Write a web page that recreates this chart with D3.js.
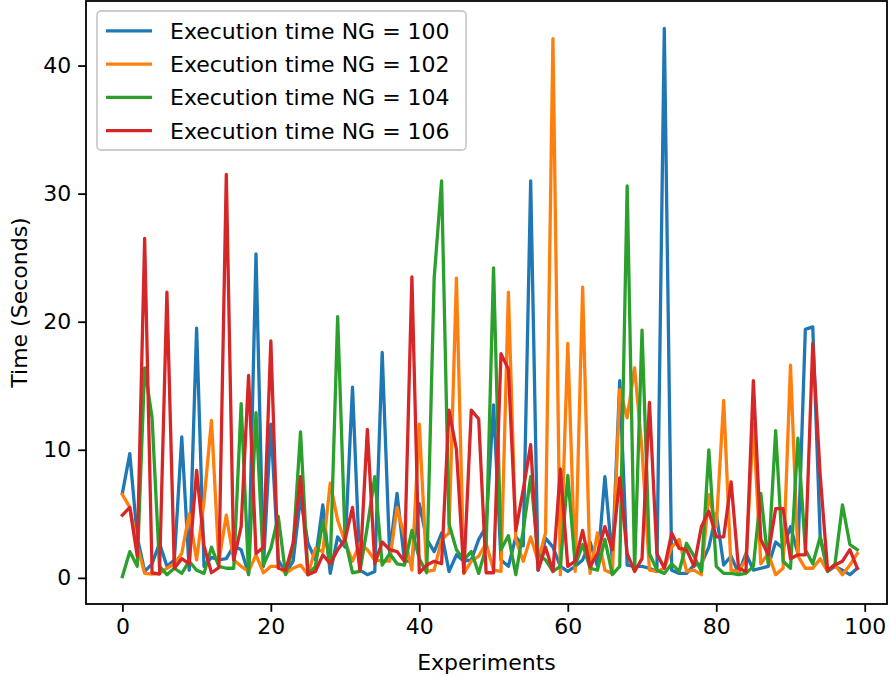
<!DOCTYPE html>
<html>
<head>
<meta charset="utf-8">
<script src="https://cdn.jsdelivr.net/npm/d3@7"></script>
<style>
  body { margin: 0; background: #fff; }
  text { font-family: "DejaVu Sans", sans-serif; }
</style>
</head>
<body>
<div id="chart"></div>
<script>
let width = 890;
let height = 677;
let margin = ({top: 1, right: 3, bottom: 73, left: 86});
let fontSize = 22;

let ng100 = [6.6, 9.7, 3.2, 0.5, 1.1, 2.7, 0.9, 1.4, 11.0, 0.6,
    19.5, 0.9, 1.6, 1.4, 1.5, 2.5, 2.2, 0.3, 25.3, 0.9,
    12.0, 1.4, 0.35, 1.3, 6.3, 2.7, 1.4, 5.7, 0.35, 3.2,
    2.4, 14.9, 0.6, 0.25, 0.5, 17.6, 1.9, 6.6, 1.3, 1.3,
    5.8, 3.0, 2.05, 3.5, 0.5, 1.8, 1.3, 1.4, 3.0, 4.0,
    13.5, 1.4, 0.9, 3.2, 2.5, 31.0, 0.6, 3.1, 2.4, 0.9,
    0.5, 0.9, 1.4, 2.8, 0.9, 7.9, 1.4, 15.4, 1.0, 0.9,
    0.9, 0.75, 0.5, 42.9, 0.6, 0.35, 0.35, 1.0, 1.1, 2.4,
    5.0, 1.0, 1.7, 0.35, 1.9, 0.6, 0.75, 0.9, 2.8, 2.3,
    4.0, 1.9, 19.4, 19.6, 3.2, 0.5, 0.9, 0.6, 0.25, 0.75];

let ng102 = [6.5, 5.5, 2.5, 0.35, 0.3, 0.35, 0.75, 1.1, 1.9, 5.0,
    1.4, 6.0, 12.3, 1.3, 4.9, 1.4, 0.9, 0.5, 1.8, 0.4,
    0.9, 0.9, 0.35, 0.75, 1.0, 0.25, 2.3, 2.05, 7.4, 4.5,
    2.8, 1.3, 2.7, 2.2, 1.4, 1.3, 1.3, 5.5, 3.2, 0.6,
    12.0, 0.5, 0.6, 3.0, 3.5, 23.4, 0.35, 1.3, 1.7, 2.7,
    0.6, 0.5, 22.3, 3.0, 1.3, 3.2, 1.3, 3.5, 42.1, 0.25,
    18.3, 0.5, 22.7, 0.35, 3.5, 0.6, 0.35, 14.7, 12.5, 16.4,
    10.0, 0.6, 0.5, 0.75, 2.4, 3.0, 0.5, 0.6, 0.25, 6.5,
    4.0, 13.85, 0.6, 0.5, 1.4, 12.0, 1.1, 1.9, 0.25, 0.75,
    16.6, 1.7, 0.75, 0.75, 1.5, 0.5, 1.0, 0.25, 1.0, 1.9];

let ng104 = [0.1, 2.05, 0.9, 16.4, 12.5, 0.9, 0.25, 0.75, 0.35, 1.3,
    0.6, 0.35, 2.4, 0.9, 0.75, 0.75, 13.6, 0.25, 12.9, 1.0,
    2.3, 4.8, 0.25, 2.4, 11.4, 0.25, 0.9, 4.4, 1.0, 20.4,
    3.0, 0.4, 0.5, 4.0, 7.9, 1.0, 1.9, 1.1, 1.0, 3.7,
    1.5, 0.4, 23.4, 31.0, 4.2, 2.2, 1.4, 2.05, 0.35, 2.4,
    24.2, 2.2, 3.3, 0.25, 3.7, 7.9, 1.8, 1.4, 0.5, 0.9,
    8.0, 1.0, 2.6, 0.75, 0.6, 3.0, 0.25, 0.9, 30.6, 0.6,
    19.35, 1.9, 0.6, 0.35, 1.1, 0.5, 2.7, 1.7, 0.5, 10.0,
    0.9, 0.35, 0.35, 0.25, 0.35, 0.9, 6.6, 1.1, 11.5, 1.3,
    0.75, 10.9, 2.2, 1.1, 3.2, 0.5, 1.1, 5.7, 2.6, 2.2];

let ng106 = [4.9, 5.5, 1.7, 26.5, 0.4, 0.3, 22.3, 0.75, 1.5, 1.1,
    8.4, 2.5, 0.4, 0.8, 31.5, 1.4, 4.0, 15.8, 1.9, 2.4,
    18.5, 0.75, 0.6, 2.7, 7.9, 0.25, 0.5, 1.8, 1.1, 2.2,
    3.0, 5.5, 0.6, 11.6, 1.1, 2.8, 2.2, 2.05, 1.3, 23.5,
    0.4, 1.0, 1.3, 1.1, 13.1, 10.0, 0.4, 13.1, 12.4, 0.4,
    0.4, 17.5, 16.3, 3.7, 6.9, 10.4, 0.6, 2.4, 0.5, 8.5,
    0.9, 1.3, 3.7, 0.9, 1.9, 4.0, 2.2, 7.8, 1.9, 0.5,
    1.5, 13.7, 1.9, 0.75, 3.5, 2.3, 2.2, 0.9, 4.0, 5.2,
    3.2, 3.2, 7.5, 0.75, 0.5, 15.4, 3.0, 1.8, 5.4, 5.4,
    1.5, 1.8, 1.8, 18.3, 8.0, 0.6, 1.0, 1.3, 2.2, 0.75];

let seriesNames = ["Execution time NG = 100", "Execution time NG = 102",
    "Execution time NG = 104", "Execution time NG = 106"];
let seriesValues = [ng100, ng102, ng104, ng106];
let colors = ["#1f77b4", "#ff7f0e", "#2ca02c", "#d62728"];

let xTicks = [0, 20, 40, 60, 80, 100];
let yTicks = [0, 10, 20, 30, 40];

let svg = d3.select("#chart")
    .append("svg")
    .attr("width", width)
    .attr("height", height);

// padding round the data, like matplotlib's margins
let allVals = d3.merge(seriesValues);
let yMin = d3.min(allVals), yMax = d3.max(allVals);
let yPad = (yMax - yMin) * 0.05;

let xScale = d3.scaleLinear()
    .domain([-4.9, 103.0])
    .range([margin.left, width - margin.right]);

let yScale = d3.scaleLinear()
    .domain([yMin - yPad, yMax + yPad])
    .range([height - margin.bottom, margin.top]);

let line = d3.line()
    .x(function(d, i) { return xScale(i); })
    .y(function(d) { return yScale(d); });

svg.append("g")
    .selectAll("path")
    .data(seriesValues)
    .enter()
    .append("path")
    .attr("d", line)
    .attr("fill", "none")
    .attr("stroke", function(d, i) { return colors[i]; })
    .attr("stroke-width", 3.3)
    .attr("stroke-linejoin", "round")
    .attr("stroke-linecap", "square");

// axes
let xAxis = d3.axisBottom(xScale)
    .tickValues(xTicks)
    .tickSize(7.8)
    .tickPadding(7)
    .tickSizeOuter(0);

let yAxis = d3.axisLeft(yScale)
    .tickValues(yTicks)
    .tickSize(7.8)
    .tickPadding(7)
    .tickSizeOuter(0);

let gx = svg.append("g")
    .attr("transform", "translate(0," + (height - margin.bottom) + ")")
    .call(xAxis);

let gy = svg.append("g")
    .attr("transform", "translate(" + margin.left + ",0)")
    .call(yAxis);

[gx, gy].forEach(function(g) {
    g.select(".domain").remove();
    g.selectAll(".tick line").attr("stroke", "#000").attr("stroke-width", 1.8);
    g.selectAll(".tick text")
        .attr("fill", "#000")
        .style("font-size", fontSize + "px")
        .style("font-family", "DejaVu Sans");
});

// frame
svg.append("rect")
    .attr("x", margin.left)
    .attr("y", margin.top)
    .attr("width", width - margin.left - margin.right)
    .attr("height", height - margin.top - margin.bottom)
    .attr("fill", "none")
    .attr("stroke", "#000")
    .attr("stroke-width", 1.8);

// axis labels
svg.append("text")
    .attr("x", (margin.left + width - margin.right) / 2)
    .attr("y", 670)
    .attr("text-anchor", "middle")
    .style("font-size", fontSize + "px")
    .text("Experiments");

svg.append("text")
    .attr("transform", "translate(" + 27 + "," + ((margin.top + height - margin.bottom) / 2) + ") rotate(-90)")
    .attr("text-anchor", "middle")
    .style("font-size", fontSize + "px")
    .text("Time (Seconds)");

// legend
let lgX = margin.left + 11, lgY = margin.top + 10;
let rowH = 33.3;
let legend = svg.append("g");

legend.append("rect")
    .attr("x", lgX)
    .attr("y", lgY)
    .attr("width", 369)
    .attr("height", 139)
    .attr("rx", 4)
    .attr("fill", "#fff")
    .attr("fill-opacity", 0.8)
    .attr("stroke", "#cccccc")
    .attr("stroke-width", 1.8);

let rows = legend.selectAll(".row")
    .data(seriesNames)
    .enter()
    .append("g")
    .attr("class", "row")
    .attr("transform", function(d, i) {
        return "translate(" + lgX + "," + (lgY + 8.8 + 11 + i * rowH) + ")";
    });

rows.append("line")
    .attr("x1", 9)
    .attr("x2", 55)
    .attr("stroke", function(d, i) { return colors[i]; })
    .attr("stroke-width", 3.3);

rows.append("text")
    .attr("x", 73)
    .attr("dy", "0.36em")
    .style("font-size", fontSize + "px")
    .text(function(d) { return d; });
</script>
</body>
</html>
